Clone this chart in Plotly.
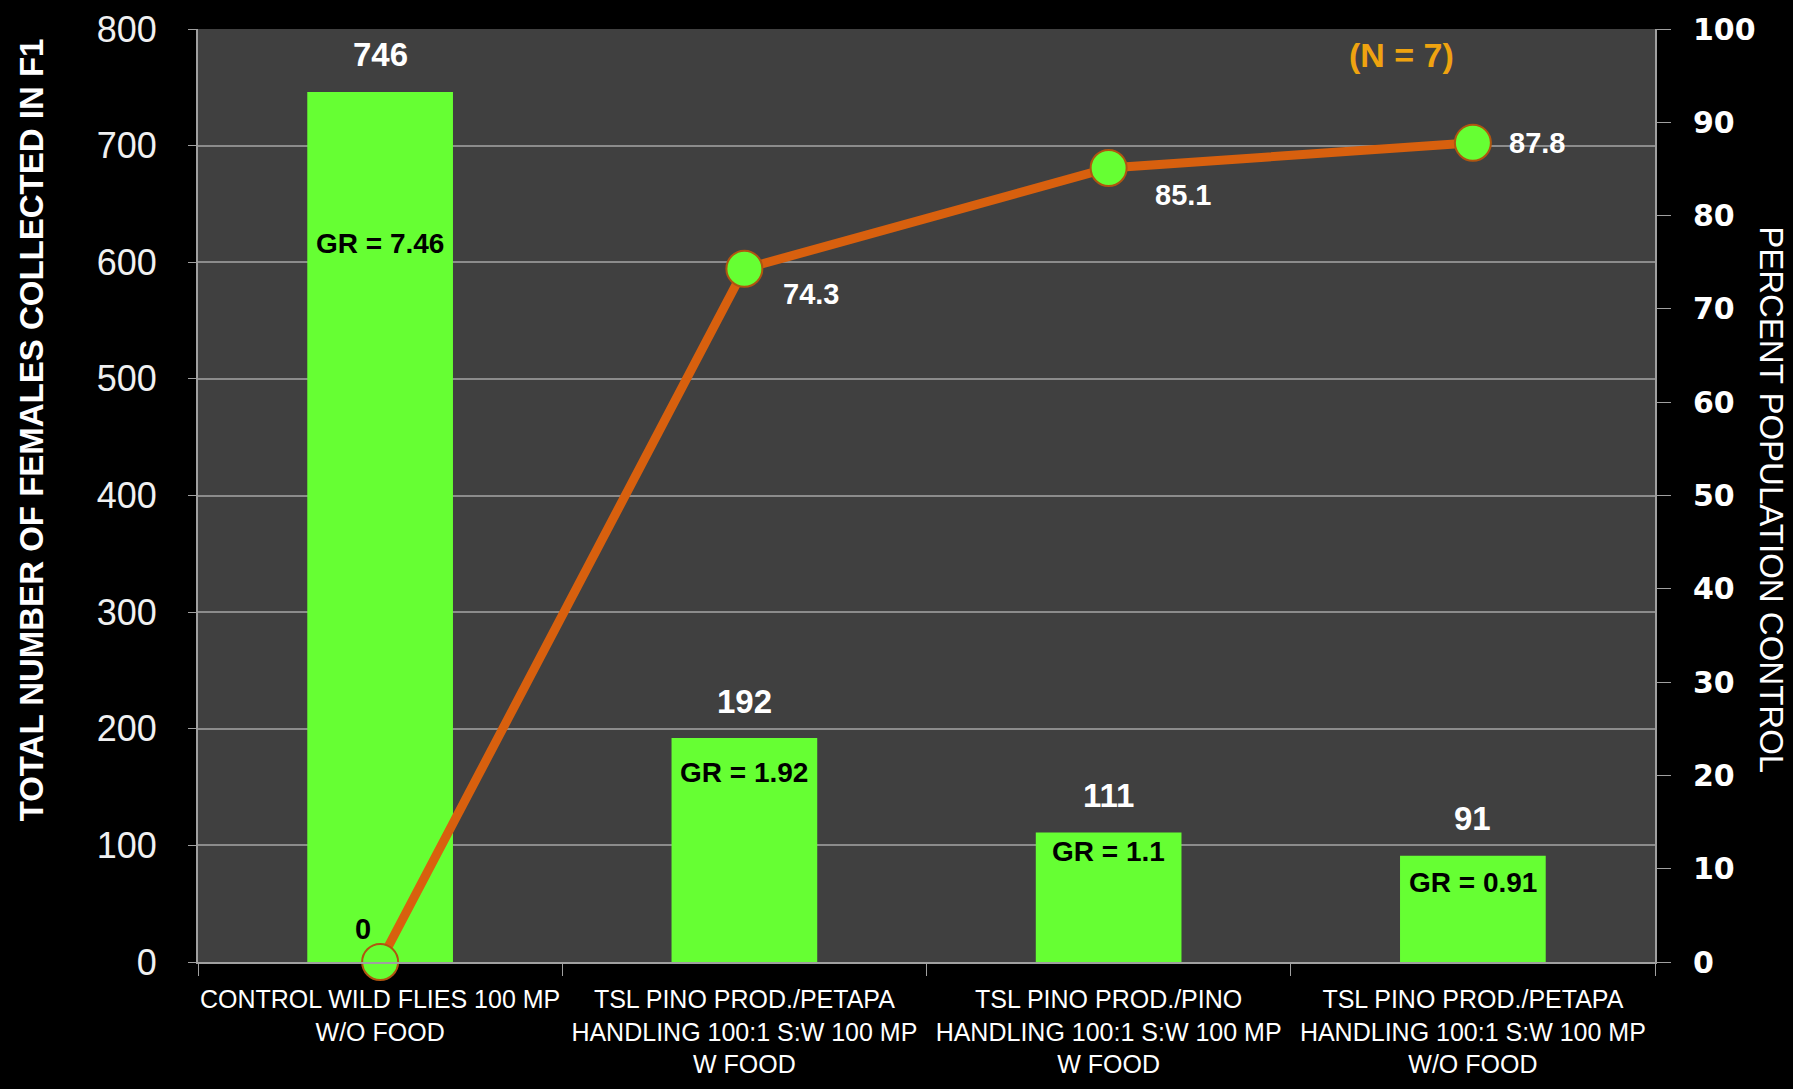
import plotly.graph_objects as go

categories = [
    "CONTROL WILD FLIES 100 MP<br>W/O FOOD",
    "TSL PINO PROD./PETAPA<br>HANDLING 100:1 S:W 100 MP<br>W FOOD",
    "TSL PINO PROD./PINO<br>HANDLING 100:1 S:W 100 MP<br>W FOOD",
    "TSL PINO PROD./PETAPA<br>HANDLING 100:1 S:W 100 MP<br>W/O FOOD",
]
females_f1 = [746, 192, 111, 91]
growth_rate = [7.46, 1.92, 1.1, 0.91]
percent_control = [0, 74.3, 85.1, 87.8]
n_label = "(N = 7)"

# label offsets (pixels) - styling only
gr_shift = [-152, -34, -19, -27]
pc_shift = [(-17, 33), (67, -25), (74, -27), (64, 0)]

GREEN = "#66FF33"
ORANGE = "#D8600E"
FONT = "Liberation Sans, Arial, sans-serif"

fig = go.Figure()
fig.add_trace(go.Bar(
    x=categories, y=females_f1, marker=dict(color=GREEN, line=dict(width=0)),
    yaxis="y", showlegend=False, hoverinfo="skip",
))
fig.add_trace(go.Scatter(
    x=categories, y=percent_control, yaxis="y2", mode="lines+markers",
    line=dict(color=ORANGE, width=9),
    marker=dict(size=36, color=GREEN, line=dict(color="#B05510", width=2)),
    showlegend=False, hoverinfo="skip", cliponaxis=False,
))

ann = []
for c, v in zip(categories, females_f1):
    ann.append(dict(x=c, y=v, xref="x", yref="y", text=f"<b>{v}</b>", showarrow=False,
                    yshift=37, font=dict(color="white", size=33, family=FONT)))
for c, v, g, s in zip(categories, females_f1, growth_rate, gr_shift):
    ann.append(dict(x=c, y=v, xref="x", yref="y", text=f"<b>GR = {g}</b>", showarrow=False,
                    yshift=s, font=dict(color="black", size=28, family=FONT)))
for i, (c, p) in enumerate(zip(categories, percent_control)):
    dx, dy = pc_shift[i]
    col = "black" if i == 0 else "white"
    ann.append(dict(x=c, y=p, xref="x", yref="y2", text=f"<b>{p:g}</b>", showarrow=False,
                    xshift=dx, yshift=dy, font=dict(color=col, size=29, family=FONT)))
ann.append(dict(x=0.826, y=0.972, xref="paper", yref="paper", text=f"<b>{n_label}</b>",
                xanchor="center", yanchor="middle",
                showarrow=False, font=dict(color="#EFA310", size=34, family=FONT)))
ann.append(dict(x=-0.1145, y=0.57, xref="paper", yref="paper",
                text="<b>TOTAL NUMBER OF FEMALES COLLECTED IN F1</b>", textangle=-90,
                xanchor="center", yanchor="middle",
                showarrow=False, font=dict(color="white", size=33, family=FONT)))
ann.append(dict(x=1.0803, y=0.495, xref="paper", yref="paper",
                text="PERCENT POPULATION CONTROL", textangle=90,
                xanchor="center", yanchor="middle",
                showarrow=False, font=dict(color="white", size=33, family=FONT)))

fig.update_layout(
    width=1793, height=1089,
    margin=dict(l=198, r=138, t=29, b=127),
    paper_bgcolor="black", plot_bgcolor="#404040",
    bargap=0.6,
    annotations=ann,
    xaxis=dict(
        tickfont=dict(color="white", size=25, family=FONT), tickangle=0, automargin=False,
        showline=True, linecolor="#A0A0A0", linewidth=2,
        ticks="outside", tickson="boundaries", tickcolor="#A0A0A0", ticklen=12,
        ticklabelstandoff=14,
        showgrid=False, mirror=False,
    ),
    yaxis=dict(
        range=[0, 800], dtick=100, showgrid=True, gridcolor="#8C8C8C", gridwidth=1.5,
        tickfont=dict(color="#F0F0F0", size=36, family=FONT), automargin=False,
        showline=True, linecolor="#A0A0A0", linewidth=2, ticks="outside",
        tickcolor="#A0A0A0", ticklen=8, ticklabelstandoff=24, zeroline=False,
    ),
    yaxis2=dict(
        range=[0, 100], dtick=10, overlaying="y", side="right", showgrid=False,
        tickfont=dict(color="white", size=30, family="DejaVu Sans, Verdana", weight="bold"),
        showline=True, linecolor="#A0A0A0", linewidth=2, ticks="outside", automargin=False,
        tickcolor="#A0A0A0", ticklen=14, ticklabelstandoff=16, zeroline=False,
    ),
)

fig.write_html("out.html")
